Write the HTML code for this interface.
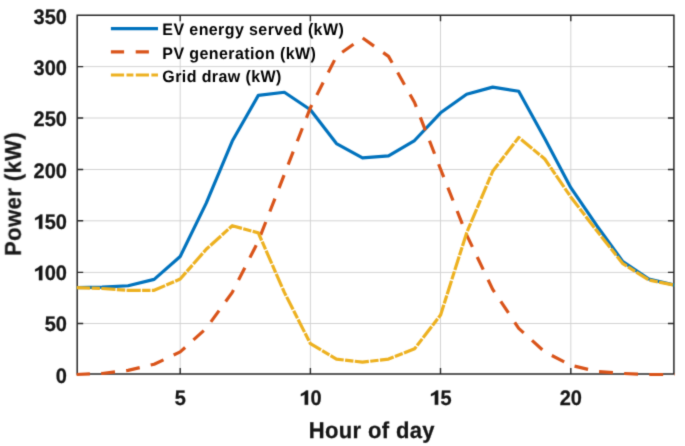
<!DOCTYPE html>
<html><head><meta charset="utf-8"><style>
html,body{margin:0;padding:0;background:#fff;width:685px;height:446px;overflow:hidden}
svg{display:block;will-change:transform}
text{font-family:"Liberation Sans",sans-serif;text-rendering:geometricPrecision}
</style></head><body>
<svg width="685" height="446" viewBox="0 0 685 446">
<defs><clipPath id="c"><rect x="76.6" y="0" width="598" height="446"/></clipPath></defs>
<filter id="b" x="0" y="0" width="685" height="446" filterUnits="userSpaceOnUse" color-interpolation-filters="sRGB"><feConvolveMatrix order="3" kernelMatrix="0.0367 0.1915 0.0367 0.1915 1 0.1915 0.0367 0.1915 0.0367" edgeMode="duplicate"/></filter>
<g filter="url(#b)">
<rect width="685" height="446" fill="#fff"/>
<path d="M180.20,15.25V374.0M310.40,15.25V374.0M440.50,15.25V374.0M570.80,15.25V374.0M77.2,323.50H673.9M77.2,272.40H673.9M77.2,220.80H673.9M77.2,169.50H673.9M77.2,118.00H673.9M77.2,66.60H673.9" stroke="#d3d3d3" stroke-width="1" fill="none"/>
<rect x="77.2" y="15.25" width="596.70" height="358.75" fill="none" stroke="#262626" stroke-width="1.5"/>
<path d="M180.20,374.0v-6M180.20,15.25v6M310.40,374.0v-6M310.40,15.25v6M440.50,374.0v-6M440.50,15.25v6M570.80,374.0v-6M570.80,15.25v6M77.2,323.50h6M673.9,323.50h-6M77.2,272.40h6M673.9,272.40h-6M77.2,220.80h6M673.9,220.80h-6M77.2,169.50h6M673.9,169.50h-6M77.2,118.00h6M673.9,118.00h-6M77.2,66.60h6M673.9,66.60h-6" stroke="#262626" stroke-width="1.4" fill="none"/>
<g clip-path="url(#c)" fill="none" stroke-width="3.2" stroke-linejoin="round">
<polyline points="76.04,287.57 102.08,287.06 128.12,285.73 154.16,279.36 180.20,256.48 206.24,203.11 232.28,141.02 258.32,95.35 284.36,92.27 310.40,109.72 336.44,143.59 362.48,157.95 388.52,155.90 414.56,140.51 440.60,112.80 466.64,94.32 492.68,87.14 518.72,91.25 544.76,138.45 570.80,187.72 596.84,225.69 622.88,261.61 648.92,279.06 674.96,285.21" stroke="#0072BD"/>
<polyline points="76.04,374.50 102.08,373.47 128.12,370.39 154.16,364.24 180.20,351.92 206.24,328.32 232.28,292.40 258.32,241.08 284.36,174.37 310.40,107.67 336.44,56.35 362.48,37.88 388.52,56.35 414.56,102.53 440.60,169.24 466.64,234.93 492.68,289.32 518.72,328.32 544.76,351.92 570.80,365.26 596.84,371.42 622.88,373.47 648.92,374.50 674.96,374.50" stroke="#D95319" stroke-dasharray="13.9 11.25"/>
<polyline points="76.04,287.68 102.08,288.50 128.12,290.34 154.16,290.34 180.20,279.06 206.24,249.29 232.28,225.69 258.32,232.87 284.36,292.40 310.40,343.71 336.44,359.11 362.48,362.18 388.52,359.11 414.56,348.84 440.60,314.98 466.64,232.87 492.68,171.30 518.72,137.43 544.76,158.98 570.80,196.95 596.84,230.82 622.88,263.66 648.92,280.08 674.96,285.21" stroke="#EDB120" stroke-dasharray="14.2 1.35 8.4 1.35"/>
</g>
<g stroke-width="3.2"><line x1="110.9" y1="28.7" x2="158" y2="28.7" stroke="#0072BD"/>
<line x1="110.9" y1="51.9" x2="158" y2="51.9" stroke="#D95319" stroke-dasharray="13.2 11.6"/>
<line x1="110.9" y1="75.0" x2="158" y2="75.0" stroke="#EDB120" stroke-dasharray="13.2 2.4 6.9 2.4"/></g>
<text transform="translate(162.35,35.40) scale(1,1.035)" font-family="Liberation Sans, sans-serif" font-weight="bold" font-size="16" fill="#000" letter-spacing="0.4">EV energy served (kW)</text>
<text transform="translate(162.35,58.60) scale(1,1.035)" font-family="Liberation Sans, sans-serif" font-weight="bold" font-size="16" fill="#000" letter-spacing="0.4">PV generation (kW)</text>
<text transform="translate(162.35,81.70) scale(1,1.035)" font-family="Liberation Sans, sans-serif" font-weight="bold" font-size="16" fill="#000" letter-spacing="0.4">Grid draw (kW)</text>
<g transform="translate(0,404.80)" fill="#161616" stroke="#161616" stroke-width="0.25"><text x="174.64" y="0" transform="scale(1,1.05)" font-family="Liberation Sans, sans-serif" font-weight="bold" font-size="20">5</text></g>
<g transform="translate(0,404.80)" fill="#161616" stroke="#161616" stroke-width="0.25"><path d="M308.10,0.00L308.10,-14.32L305.98,-14.32L305.28,-13.60L303.68,-12.30L300.88,-10.90L300.88,-8.60L303.28,-9.50L304.70,-10.40L304.70,0.00Z"/><text x="310.40" y="0" transform="scale(1,1.05)" font-family="Liberation Sans, sans-serif" font-weight="bold" font-size="20">0</text></g>
<g transform="translate(0,404.80)" fill="#161616" stroke="#161616" stroke-width="0.25"><path d="M438.20,0.00L438.20,-14.32L436.08,-14.32L435.38,-13.60L433.78,-12.30L430.98,-10.90L430.98,-8.60L433.38,-9.50L434.80,-10.40L434.80,0.00Z"/><text x="440.50" y="0" transform="scale(1,1.05)" font-family="Liberation Sans, sans-serif" font-weight="bold" font-size="20">5</text></g>
<g transform="translate(0,404.80)" fill="#161616" stroke="#161616" stroke-width="0.25"><text x="559.68" y="0" transform="scale(1,1.05)" font-family="Liberation Sans, sans-serif" font-weight="bold" font-size="20">2</text><text x="570.80" y="0" transform="scale(1,1.05)" font-family="Liberation Sans, sans-serif" font-weight="bold" font-size="20">0</text></g>
<g transform="translate(0,382.80)" fill="#161616" stroke="#161616" stroke-width="0.25"><text x="55.78" y="0" transform="scale(1,1.05)" font-family="Liberation Sans, sans-serif" font-weight="bold" font-size="20">0</text></g>
<g transform="translate(0,331.49)" fill="#161616" stroke="#161616" stroke-width="0.25"><text x="44.65" y="0" transform="scale(1,1.05)" font-family="Liberation Sans, sans-serif" font-weight="bold" font-size="20">5</text><text x="55.78" y="0" transform="scale(1,1.05)" font-family="Liberation Sans, sans-serif" font-weight="bold" font-size="20">0</text></g>
<g transform="translate(0,280.17)" fill="#161616" stroke="#161616" stroke-width="0.25"><path d="M42.35,0.00L42.35,-14.32L40.23,-14.32L39.53,-13.60L37.93,-12.30L35.13,-10.90L35.13,-8.60L37.53,-9.50L38.95,-10.40L38.95,0.00Z"/><text x="44.65" y="0" transform="scale(1,1.05)" font-family="Liberation Sans, sans-serif" font-weight="bold" font-size="20">0</text><text x="55.78" y="0" transform="scale(1,1.05)" font-family="Liberation Sans, sans-serif" font-weight="bold" font-size="20">0</text></g>
<g transform="translate(0,228.86)" fill="#161616" stroke="#161616" stroke-width="0.25"><path d="M42.35,0.00L42.35,-14.32L40.23,-14.32L39.53,-13.60L37.93,-12.30L35.13,-10.90L35.13,-8.60L37.53,-9.50L38.95,-10.40L38.95,0.00Z"/><text x="44.65" y="0" transform="scale(1,1.05)" font-family="Liberation Sans, sans-serif" font-weight="bold" font-size="20">5</text><text x="55.78" y="0" transform="scale(1,1.05)" font-family="Liberation Sans, sans-serif" font-weight="bold" font-size="20">0</text></g>
<g transform="translate(0,177.54)" fill="#161616" stroke="#161616" stroke-width="0.25"><text x="33.53" y="0" transform="scale(1,1.05)" font-family="Liberation Sans, sans-serif" font-weight="bold" font-size="20">2</text><text x="44.65" y="0" transform="scale(1,1.05)" font-family="Liberation Sans, sans-serif" font-weight="bold" font-size="20">0</text><text x="55.78" y="0" transform="scale(1,1.05)" font-family="Liberation Sans, sans-serif" font-weight="bold" font-size="20">0</text></g>
<g transform="translate(0,126.23)" fill="#161616" stroke="#161616" stroke-width="0.25"><text x="33.53" y="0" transform="scale(1,1.05)" font-family="Liberation Sans, sans-serif" font-weight="bold" font-size="20">2</text><text x="44.65" y="0" transform="scale(1,1.05)" font-family="Liberation Sans, sans-serif" font-weight="bold" font-size="20">5</text><text x="55.78" y="0" transform="scale(1,1.05)" font-family="Liberation Sans, sans-serif" font-weight="bold" font-size="20">0</text></g>
<g transform="translate(0,74.91)" fill="#161616" stroke="#161616" stroke-width="0.25"><text x="33.53" y="0" transform="scale(1,1.05)" font-family="Liberation Sans, sans-serif" font-weight="bold" font-size="20">3</text><text x="44.65" y="0" transform="scale(1,1.05)" font-family="Liberation Sans, sans-serif" font-weight="bold" font-size="20">0</text><text x="55.78" y="0" transform="scale(1,1.05)" font-family="Liberation Sans, sans-serif" font-weight="bold" font-size="20">0</text></g>
<g transform="translate(0,23.60)" fill="#161616" stroke="#161616" stroke-width="0.25"><text x="33.53" y="0" transform="scale(1,1.05)" font-family="Liberation Sans, sans-serif" font-weight="bold" font-size="20">3</text><text x="44.65" y="0" transform="scale(1,1.05)" font-family="Liberation Sans, sans-serif" font-weight="bold" font-size="20">5</text><text x="55.78" y="0" transform="scale(1,1.05)" font-family="Liberation Sans, sans-serif" font-weight="bold" font-size="20">0</text></g>
<text transform="translate(371.80,438.10) scale(1,1.04)" font-family="Liberation Sans, sans-serif" font-weight="bold" font-size="22" fill="#161616" stroke="#161616" stroke-width="0.25" text-anchor="middle" letter-spacing="0.35">Hour of day</text>
<text transform="translate(20.60,193.90) rotate(-90) scale(1,1.04)" font-family="Liberation Sans, sans-serif" font-weight="bold" font-size="22" fill="#161616" stroke="#161616" stroke-width="0.25" text-anchor="middle" letter-spacing="0.42">Power (kW)</text>
</g>
</svg>
</body></html>
